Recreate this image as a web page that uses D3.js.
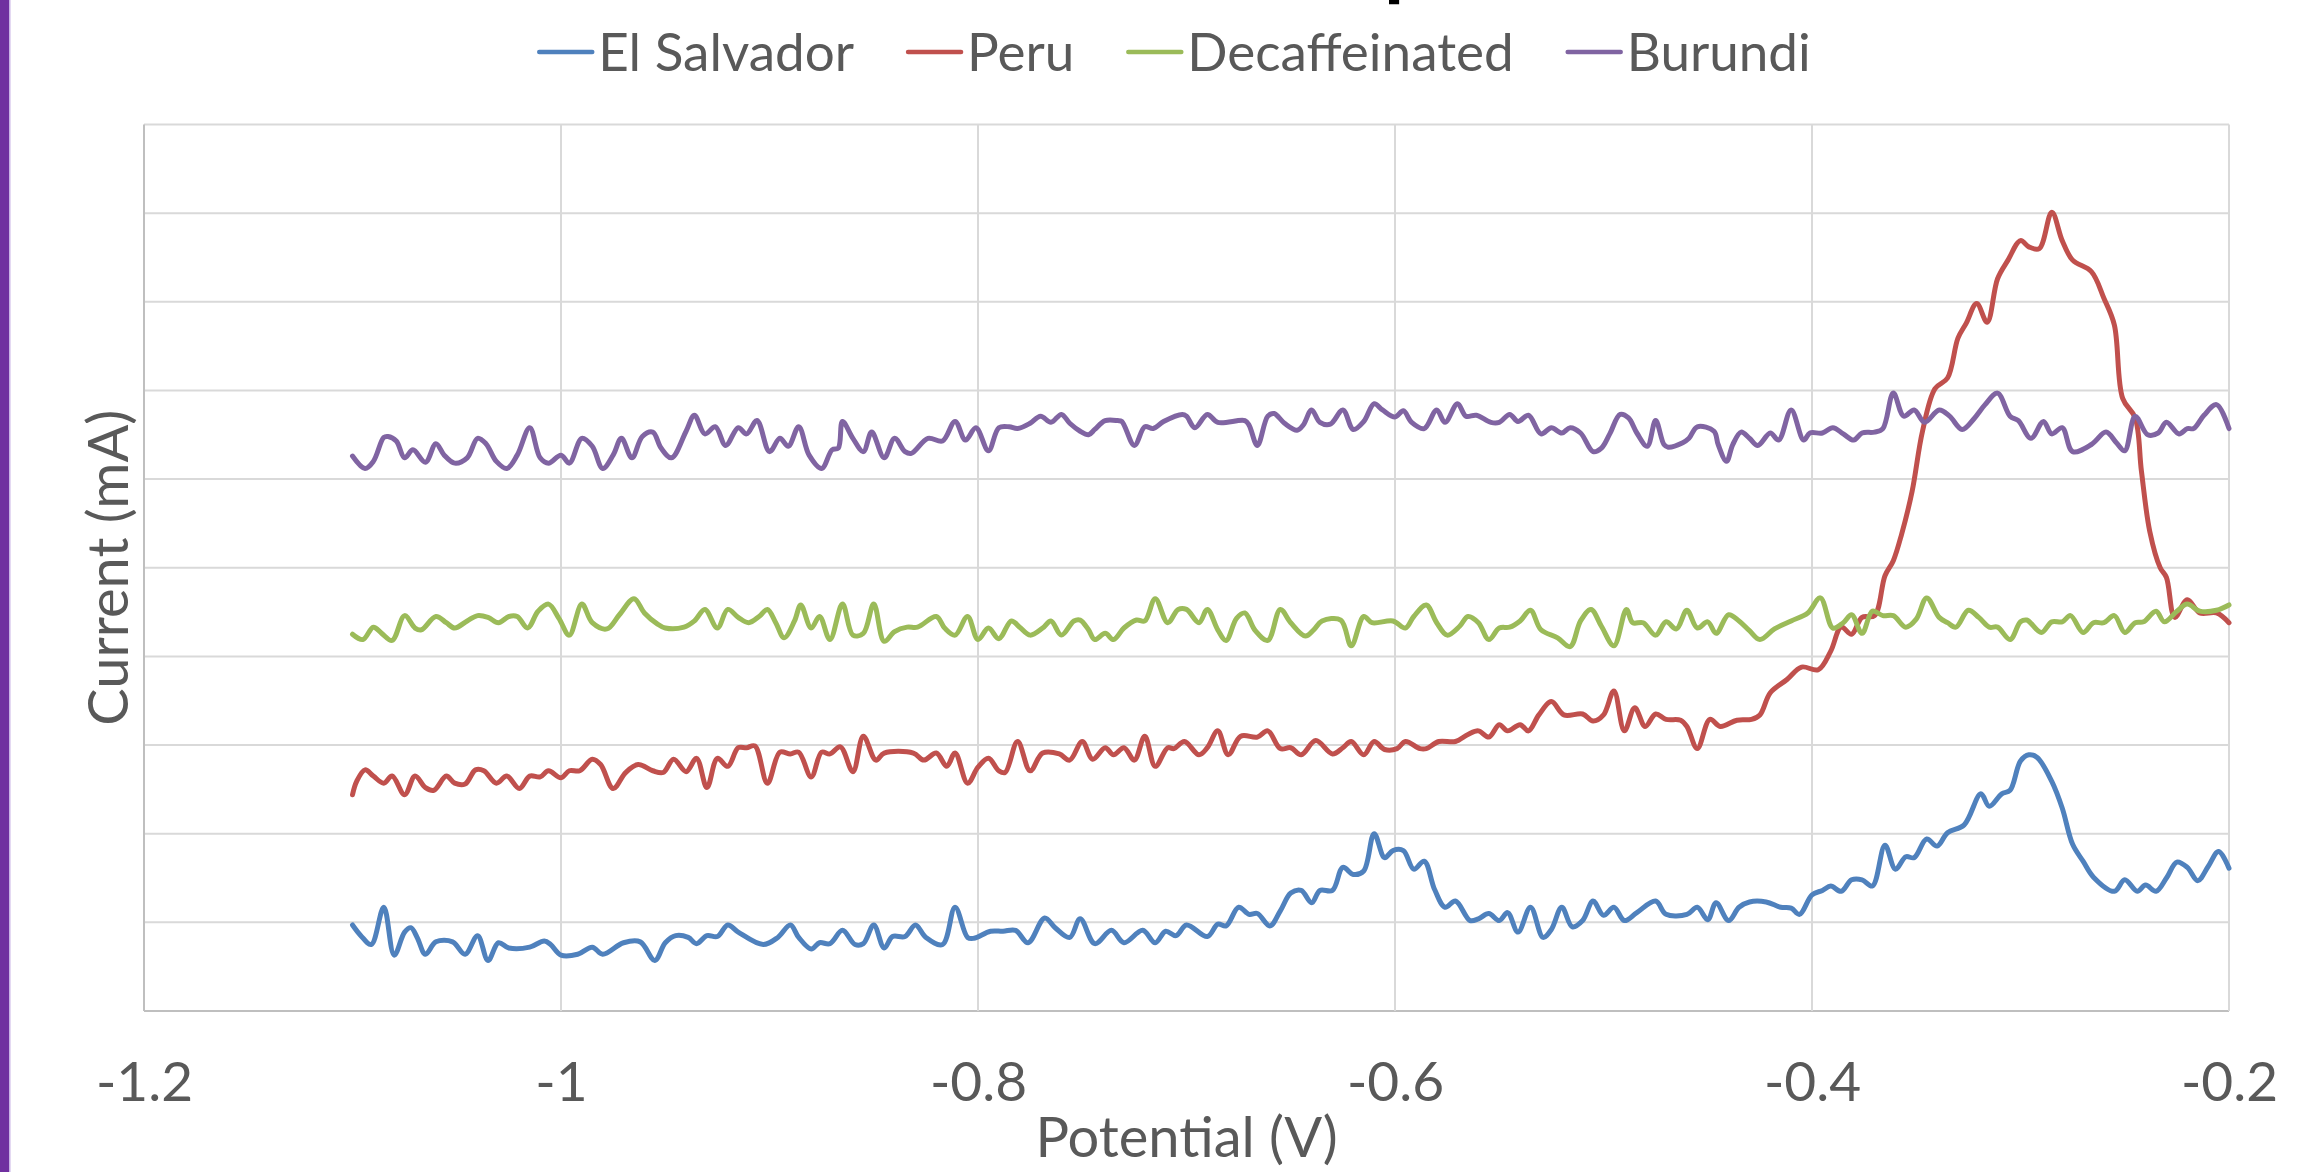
<!DOCTYPE html>
<html>
<head>
<meta charset="utf-8">
<script src="https://cdn.jsdelivr.net/npm/d3@7"></script>
<style>
  body { margin: 0; background: #fff; overflow: hidden; }
  svg { display: block; }
  text { font-family: Lato, "Open Sans", sans-serif; }
</style>
</head>
<body>
<div id="chart"></div>
<script>
// Chart values (current in gridline units, axis has no labels)
const chartTitle = "Caffeine Comparison";
const xTitle = "Potential (V)";
const yTitle = "Current (mA)";
const potentialTicks = [-1.2, -1, -0.8, -0.6, -0.4, -0.2];
const potentialTickLabels = ["-1.2", "-1", "-0.8", "-0.6", "-0.4", "-0.2"];
const currentTicks = [0, 1, 2, 3, 4, 5, 6, 7, 8, 9, 10];
const seriesNames = ["El Salvador", "Peru", "Decaffeinated", "Burundi"];
const seriesColors = ["#4F81BD", "#C0504D", "#9BBB59", "#8064A2"];

const elSalvador = [
  [-1.100,0.97],[-1.096,0.85],[-1.091,0.75],[-1.085,1.17],[-1.080,0.63],[-1.075,0.89],[-1.072,0.94],[-1.069,0.83],
  [-1.065,0.64],[-1.060,0.78],[-1.052,0.78],[-1.046,0.64],[-1.040,0.85],[-1.035,0.57],[-1.030,0.77],[-1.025,0.71],
  [-1.015,0.72],[-1.008,0.79],[-1.005,0.75],[-1.000,0.63],[-0.992,0.64],[-0.985,0.72],[-0.980,0.64],[-0.970,0.77],
  [-0.962,0.78],[-0.955,0.57],[-0.950,0.77],[-0.945,0.85],[-0.939,0.83],[-0.935,0.76],[-0.930,0.85],[-0.925,0.84],
  [-0.920,0.97],[-0.915,0.89],[-0.903,0.75],[-0.896,0.83],[-0.890,0.97],[-0.886,0.83],[-0.880,0.70],[-0.876,0.77],
  [-0.871,0.76],[-0.865,0.91],[-0.859,0.75],[-0.855,0.76],[-0.850,0.97],[-0.845,0.71],[-0.841,0.84],[-0.835,0.84],
  [-0.830,0.97],[-0.825,0.83],[-0.817,0.75],[-0.811,1.17],[-0.805,0.83],[-0.802,0.82],[-0.794,0.90],[-0.788,0.90],
  [-0.782,0.91],[-0.776,0.77],[-0.768,1.05],[-0.763,0.94],[-0.756,0.83],[-0.751,1.04],[-0.744,0.76],[-0.736,0.91],
  [-0.730,0.77],[-0.721,0.91],[-0.715,0.77],[-0.710,0.90],[-0.705,0.85],[-0.700,0.97],[-0.690,0.84],[-0.685,0.98],
  [-0.681,0.96],[-0.675,1.17],[-0.670,1.09],[-0.666,1.10],[-0.660,0.96],[-0.655,1.13],[-0.650,1.33],[-0.645,1.36],
  [-0.640,1.22],[-0.636,1.36],[-0.630,1.36],[-0.625,1.62],[-0.620,1.54],[-0.615,1.58],[-0.610,2.00],[-0.605,1.73],
  [-0.601,1.81],[-0.596,1.81],[-0.591,1.60],[-0.586,1.69],[-0.581,1.37],[-0.576,1.17],[-0.571,1.24],[-0.564,1.02],
  [-0.560,1.04],[-0.555,1.10],[-0.550,1.02],[-0.546,1.11],[-0.541,0.89],[-0.535,1.17],[-0.529,0.83],[-0.525,0.92],
  [-0.520,1.17],[-0.515,0.95],[-0.510,1.02],[-0.505,1.24],[-0.500,1.08],[-0.495,1.17],[-0.490,1.02],[-0.484,1.11],
  [-0.475,1.24],[-0.470,1.09],[-0.460,1.09],[-0.455,1.17],[-0.450,1.03],[-0.446,1.22],[-0.440,1.02],[-0.435,1.17],
  [-0.430,1.23],[-0.422,1.23],[-0.415,1.17],[-0.410,1.16],[-0.406,1.09],[-0.400,1.31],[-0.395,1.36],[-0.391,1.41],
  [-0.386,1.35],[-0.381,1.48],[-0.376,1.48],[-0.371,1.41],[-0.365,1.87],[-0.360,1.60],[-0.355,1.74],[-0.351,1.73],
  [-0.345,1.94],[-0.340,1.86],[-0.335,2.01],[-0.327,2.10],[-0.319,2.45],[-0.315,2.31],[-0.309,2.45],[-0.305,2.49],
  [-0.300,2.82],[-0.296,2.89],[-0.292,2.86],[-0.285,2.59],[-0.280,2.29],[-0.275,1.88],[-0.270,1.69],[-0.265,1.51],
  [-0.255,1.35],[-0.250,1.48],[-0.244,1.35],[-0.240,1.42],[-0.235,1.35],[-0.230,1.50],[-0.225,1.68],[-0.220,1.62],
  [-0.215,1.47],[-0.210,1.63],[-0.205,1.80],[-0.200,1.61]
];

const peru = [
  [-1.100,2.44],[-1.098,2.59],[-1.094,2.72],[-1.090,2.65],[-1.085,2.57],[-1.081,2.65],[-1.075,2.44],[-1.070,2.65],
  [-1.065,2.52],[-1.061,2.49],[-1.055,2.65],[-1.051,2.57],[-1.046,2.56],[-1.041,2.72],[-1.037,2.71],[-1.031,2.57],
  [-1.026,2.65],[-1.020,2.51],[-1.015,2.65],[-1.010,2.64],[-1.006,2.71],[-1.000,2.63],[-0.996,2.71],[-0.991,2.71],
  [-0.985,2.84],[-0.981,2.78],[-0.975,2.51],[-0.969,2.69],[-0.963,2.78],[-0.956,2.71],[-0.951,2.69],[-0.946,2.84],
  [-0.940,2.70],[-0.935,2.85],[-0.930,2.52],[-0.925,2.85],[-0.920,2.76],[-0.915,2.97],[-0.911,2.97],[-0.907,2.99],
  [-0.901,2.57],[-0.895,2.92],[-0.890,2.90],[-0.886,2.92],[-0.880,2.64],[-0.875,2.92],[-0.871,2.90],[-0.866,2.98],
  [-0.860,2.70],[-0.855,3.10],[-0.849,2.83],[-0.845,2.91],[-0.831,2.91],[-0.826,2.83],[-0.820,2.91],[-0.815,2.76],
  [-0.811,2.91],[-0.805,2.57],[-0.800,2.75],[-0.795,2.85],[-0.790,2.71],[-0.787,2.69],[-0.781,3.04],[-0.775,2.71],
  [-0.769,2.91],[-0.761,2.90],[-0.756,2.83],[-0.750,3.04],[-0.745,2.84],[-0.739,2.97],[-0.735,2.89],[-0.730,2.97],
  [-0.725,2.83],[-0.720,3.10],[-0.715,2.76],[-0.709,2.97],[-0.706,2.96],[-0.701,3.04],[-0.694,2.89],[-0.690,2.97],
  [-0.685,3.16],[-0.680,2.89],[-0.674,3.10],[-0.666,3.09],[-0.661,3.16],[-0.655,2.96],[-0.650,2.97],[-0.645,2.89],
  [-0.638,3.05],[-0.630,2.90],[-0.625,2.97],[-0.621,3.04],[-0.615,2.89],[-0.610,3.04],[-0.605,2.95],[-0.599,2.96],
  [-0.595,3.04],[-0.588,2.96],[-0.585,2.96],[-0.579,3.04],[-0.571,3.04],[-0.565,3.12],[-0.560,3.16],[-0.555,3.09],
  [-0.550,3.23],[-0.546,3.16],[-0.540,3.23],[-0.536,3.16],[-0.531,3.34],[-0.525,3.49],[-0.519,3.34],[-0.510,3.35],
  [-0.505,3.27],[-0.500,3.34],[-0.495,3.61],[-0.490,3.16],[-0.485,3.42],[-0.480,3.21],[-0.475,3.35],[-0.470,3.29],
  [-0.463,3.28],[-0.460,3.21],[-0.455,2.96],[-0.449,3.29],[-0.444,3.21],[-0.436,3.28],[-0.429,3.29],[-0.425,3.34],
  [-0.420,3.59],[-0.412,3.74],[-0.405,3.88],[-0.397,3.85],[-0.391,4.06],[-0.386,4.33],[-0.381,4.25],[-0.376,4.44],
  [-0.370,4.46],[-0.365,4.91],[-0.361,5.08],[-0.357,5.38],[-0.352,5.86],[-0.347,6.54],[-0.341,7.02],[-0.335,7.14],
  [-0.330,7.59],[-0.326,7.76],[-0.321,7.98],[-0.316,7.77],[-0.311,8.26],[-0.306,8.47],[-0.300,8.69],[-0.296,8.62],
  [-0.291,8.60],[-0.285,9.01],[-0.280,8.69],[-0.275,8.47],[-0.266,8.34],[-0.260,8.04],[-0.255,7.74],[-0.251,6.91],
  [-0.245,6.69],[-0.242,6.09],[-0.238,5.41],[-0.233,5.00],[-0.230,4.89],[-0.226,4.44],[-0.220,4.64],[-0.214,4.49],
  [-0.206,4.49],[-0.200,4.38]
];

const decaffeinated = [
  [-1.100,4.25],[-1.095,4.19],[-1.090,4.33],[-1.086,4.26],[-1.081,4.18],[-1.075,4.46],[-1.070,4.32],[-1.067,4.30],
  [-1.060,4.45],[-1.055,4.38],[-1.051,4.32],[-1.045,4.40],[-1.040,4.46],[-1.035,4.44],[-1.030,4.38],[-1.025,4.45],
  [-1.021,4.45],[-1.016,4.32],[-1.011,4.51],[-1.006,4.59],[-1.001,4.43],[-0.996,4.24],[-0.990,4.59],[-0.985,4.38],
  [-0.978,4.31],[-0.972,4.47],[-0.965,4.65],[-0.960,4.49],[-0.954,4.37],[-0.950,4.32],[-0.941,4.33],[-0.936,4.40],
  [-0.931,4.53],[-0.925,4.32],[-0.920,4.53],[-0.915,4.44],[-0.910,4.38],[-0.905,4.45],[-0.901,4.53],[-0.897,4.38],
  [-0.893,4.21],[-0.888,4.40],[-0.885,4.58],[-0.880,4.32],[-0.876,4.45],[-0.871,4.19],[-0.865,4.59],[-0.860,4.24],
  [-0.855,4.26],[-0.850,4.59],[-0.845,4.17],[-0.840,4.28],[-0.834,4.33],[-0.829,4.33],[-0.820,4.45],[-0.816,4.32],
  [-0.811,4.24],[-0.805,4.45],[-0.800,4.19],[-0.795,4.32],[-0.790,4.20],[-0.784,4.40],[-0.780,4.33],[-0.775,4.24],
  [-0.769,4.32],[-0.765,4.40],[-0.760,4.24],[-0.754,4.40],[-0.751,4.41],[-0.747,4.30],[-0.744,4.19],[-0.739,4.26],
  [-0.735,4.19],[-0.730,4.32],[-0.724,4.41],[-0.720,4.40],[-0.715,4.65],[-0.709,4.38],[-0.704,4.53],[-0.700,4.53],
  [-0.694,4.38],[-0.690,4.53],[-0.685,4.30],[-0.681,4.18],[-0.676,4.43],[-0.672,4.49],[-0.667,4.29],[-0.661,4.18],
  [-0.655,4.53],[-0.650,4.38],[-0.643,4.23],[-0.639,4.30],[-0.635,4.40],[-0.626,4.41],[-0.621,4.12],[-0.615,4.45],
  [-0.611,4.38],[-0.601,4.40],[-0.595,4.32],[-0.591,4.45],[-0.585,4.58],[-0.580,4.38],[-0.575,4.24],[-0.569,4.34],
  [-0.565,4.45],[-0.560,4.38],[-0.555,4.19],[-0.550,4.32],[-0.545,4.33],[-0.540,4.40],[-0.535,4.52],[-0.530,4.30],
  [-0.522,4.21],[-0.516,4.11],[-0.511,4.40],[-0.506,4.53],[-0.501,4.34],[-0.495,4.12],[-0.489,4.53],[-0.486,4.38],
  [-0.481,4.38],[-0.475,4.24],[-0.470,4.39],[-0.465,4.31],[-0.460,4.52],[-0.455,4.32],[-0.450,4.39],[-0.446,4.26],
  [-0.440,4.47],[-0.435,4.40],[-0.430,4.29],[-0.425,4.19],[-0.418,4.31],[-0.410,4.40],[-0.402,4.49],[-0.396,4.66],
  [-0.390,4.32],[-0.385,4.38],[-0.381,4.47],[-0.376,4.26],[-0.371,4.51],[-0.366,4.46],[-0.361,4.46],[-0.355,4.33],
  [-0.350,4.42],[-0.345,4.66],[-0.339,4.44],[-0.335,4.38],[-0.331,4.33],[-0.325,4.52],[-0.320,4.44],[-0.315,4.33],
  [-0.311,4.33],[-0.305,4.19],[-0.300,4.39],[-0.297,4.41],[-0.290,4.27],[-0.285,4.39],[-0.280,4.39],[-0.276,4.46],
  [-0.270,4.27],[-0.265,4.38],[-0.260,4.38],[-0.255,4.46],[-0.250,4.27],[-0.245,4.38],[-0.241,4.39],[-0.235,4.51],
  [-0.231,4.39],[-0.225,4.51],[-0.220,4.59],[-0.214,4.51],[-0.206,4.52],[-0.200,4.58]
];

const burundi = [
  [-1.100,6.26],[-1.094,6.12],[-1.090,6.20],[-1.085,6.47],[-1.083,6.48],[-1.079,6.43],[-1.075,6.24],[-1.071,6.33],
  [-1.065,6.19],[-1.060,6.40],[-1.056,6.27],[-1.051,6.18],[-1.045,6.24],[-1.040,6.46],[-1.036,6.40],[-1.031,6.20],
  [-1.026,6.12],[-1.021,6.27],[-1.015,6.58],[-1.010,6.24],[-1.006,6.18],[-1.000,6.27],[-0.996,6.18],[-0.990,6.46],
  [-0.985,6.37],[-0.980,6.12],[-0.975,6.27],[-0.971,6.46],[-0.966,6.24],[-0.961,6.48],[-0.956,6.53],[-0.952,6.35],
  [-0.947,6.24],[-0.940,6.54],[-0.936,6.72],[-0.931,6.51],[-0.926,6.59],[-0.921,6.38],[-0.915,6.58],[-0.911,6.51],
  [-0.906,6.66],[-0.900,6.31],[-0.895,6.46],[-0.891,6.37],[-0.886,6.59],[-0.881,6.27],[-0.875,6.12],[-0.870,6.33],
  [-0.867,6.35],[-0.865,6.65],[-0.860,6.46],[-0.855,6.31],[-0.851,6.53],[-0.845,6.24],[-0.840,6.46],[-0.835,6.31],
  [-0.832,6.29],[-0.824,6.46],[-0.817,6.43],[-0.811,6.65],[-0.806,6.44],[-0.801,6.58],[-0.795,6.32],[-0.790,6.58],
  [-0.785,6.59],[-0.781,6.57],[-0.775,6.63],[-0.770,6.71],[-0.765,6.64],[-0.760,6.73],[-0.756,6.63],[-0.751,6.54],
  [-0.747,6.50],[-0.744,6.56],[-0.739,6.66],[-0.733,6.66],[-0.731,6.65],[-0.725,6.38],[-0.720,6.59],[-0.716,6.57],
  [-0.711,6.65],[-0.702,6.73],[-0.700,6.71],[-0.696,6.58],[-0.690,6.73],[-0.685,6.64],[-0.672,6.66],[-0.670,6.61],
  [-0.666,6.38],[-0.661,6.71],[-0.658,6.74],[-0.653,6.63],[-0.647,6.55],[-0.644,6.61],[-0.640,6.78],[-0.636,6.64],
  [-0.631,6.62],[-0.625,6.78],[-0.620,6.56],[-0.615,6.65],[-0.610,6.85],[-0.606,6.78],[-0.600,6.70],[-0.596,6.77],
  [-0.592,6.64],[-0.586,6.57],[-0.580,6.78],[-0.576,6.64],[-0.570,6.85],[-0.566,6.71],[-0.561,6.72],[-0.554,6.64],
  [-0.550,6.64],[-0.545,6.73],[-0.541,6.65],[-0.536,6.72],[-0.530,6.51],[-0.525,6.58],[-0.520,6.52],[-0.516,6.58],
  [-0.511,6.52],[-0.505,6.31],[-0.501,6.35],[-0.497,6.51],[-0.492,6.73],[-0.488,6.69],[-0.484,6.52],[-0.479,6.37],
  [-0.475,6.66],[-0.471,6.39],[-0.469,6.36],[-0.462,6.41],[-0.459,6.46],[-0.455,6.59],[-0.447,6.54],[-0.445,6.39],
  [-0.441,6.20],[-0.438,6.39],[-0.434,6.53],[-0.430,6.46],[-0.426,6.38],[-0.420,6.52],[-0.416,6.44],[-0.410,6.78],
  [-0.404,6.44],[-0.401,6.52],[-0.395,6.52],[-0.390,6.58],[-0.385,6.51],[-0.380,6.44],[-0.376,6.52],[-0.370,6.53],
  [-0.366,6.57],[-0.361,6.97],[-0.356,6.71],[-0.351,6.78],[-0.346,6.64],[-0.339,6.78],[-0.334,6.71],[-0.328,6.56],
  [-0.322,6.69],[-0.317,6.84],[-0.311,6.97],[-0.305,6.71],[-0.301,6.66],[-0.295,6.46],[-0.289,6.65],[-0.285,6.51],
  [-0.280,6.58],[-0.275,6.31],[-0.266,6.39],[-0.259,6.53],[-0.254,6.41],[-0.250,6.32],[-0.245,6.71],[-0.239,6.50],
  [-0.234,6.52],[-0.230,6.64],[-0.224,6.51],[-0.220,6.57],[-0.217,6.57],[-0.212,6.72],[-0.206,6.84],[-0.200,6.57]
];

const seriesValues = [elSalvador, peru, decaffeinated, burundi];

// Layout
const width = 2324, height = 1172;
const plot = { left: 144, right: 2229, top: 124.5, bottom: 1011 };
const textColor = "#595959";
const gridColor = "#D9D9D9";

const svg = d3.select("#chart")
  .append("svg")
  .attr("width", width)
  .attr("height", height);

svg.append("rect")
  .attr("width", width)
  .attr("height", height)
  .attr("fill", "#fff");

// Purple edge strip on the left of the picture
svg.append("rect").attr("x", 0).attr("y", 0).attr("width", 9).attr("height", height).attr("fill", "#7030A0");
svg.append("rect").attr("x", 9).attr("y", 0).attr("width", 1.5).attr("height", height).attr("fill", "#C9B3E6");

const x = d3.scaleLinear()
  .domain([-1.2, -0.2])
  .range([plot.left, plot.right]);

const y = d3.scaleLinear()
  .domain([0, 10])
  .range([plot.bottom, plot.top]);

// Horizontal gridlines
svg.append("g")
  .selectAll("line")
  .data(currentTicks)
  .join("line")
  .attr("x1", plot.left)
  .attr("x2", plot.right)
  .attr("y1", d => y(d))
  .attr("y2", d => y(d))
  .attr("stroke", d => d === 0 ? "#BFBFBF" : gridColor)
  .attr("stroke-width", 2);

// Vertical gridlines
svg.append("g")
  .selectAll("line")
  .data(potentialTicks)
  .join("line")
  .attr("x1", d => x(d))
  .attr("x2", d => x(d))
  .attr("y1", plot.top)
  .attr("y2", plot.bottom)
  .attr("stroke", (d, i) => i === 0 ? "#BFBFBF" : gridColor)
  .attr("stroke-width", 2);

// X axis tick labels
const xAxis = d3.axisBottom(x)
  .tickValues(potentialTicks)
  .tickFormat((d, i) => potentialTickLabels[i])
  .tickSize(0)
  .tickPadding(0);

const xAxisG = svg.append("g")
  .attr("transform", `translate(0, ${plot.bottom})`)
  .call(xAxis);
xAxisG.select(".domain").remove();
xAxisG.selectAll("text")
  .attr("y", 90)
  .attr("dy", null)
  .attr("fill", textColor)
  .style("font-size", "55px")
  .style("font-family", "Lato, sans-serif");

// Series lines
const line = d3.line()
  .x(d => x(d[0]))
  .y(d => y(d[1]))
  .curve(d3.curveCatmullRom.alpha(0.5));

svg.append("g")
  .selectAll("path")
  .data(seriesValues)
  .join("path")
  .attr("d", line)
  .attr("fill", "none")
  .attr("stroke", (d, i) => seriesColors[i])
  .attr("stroke-width", 5)
  .attr("stroke-linejoin", "round")
  .attr("stroke-linecap", "round");

// Axis titles
svg.append("text")
  .attr("x", (plot.left + plot.right) / 2)
  .attr("y", 1157)
  .attr("text-anchor", "middle")
  .attr("fill", textColor)
  .style("font-size", "56px")
  .text(xTitle);

svg.append("text")
  .attr("transform", `translate(128, ${(plot.top + plot.bottom) / 2}) rotate(-90)`)
  .attr("text-anchor", "middle")
  .attr("fill", textColor)
  .style("font-size", "56px")
  .text(yTitle);

// Legend, laid out in a row and centred
const legendG = svg.append("g");
const symbolLen = 55, symbolGap = 6, itemGap = 52, legendCenter = 1174;
let cursor = 0;
seriesNames.forEach((name, i) => {
  const item = legendG.append("g").attr("transform", `translate(${cursor}, 0)`);
  item.append("line")
    .attr("x1", 2).attr("x2", symbolLen)
    .attr("y1", 52).attr("y2", 52)
    .attr("stroke", seriesColors[i])
    .attr("stroke-width", 4.5)
    .attr("stroke-linecap", "round");
  const t = item.append("text")
    .attr("x", symbolLen + symbolGap)
    .attr("y", 70.5)
    .attr("fill", textColor)
    .style("font-size", "53px")
    .text(name);
  cursor += symbolLen + symbolGap + t.node().getComputedTextLength() + itemGap;
});
const legendWidth = cursor - itemGap;
legendG.attr("transform", `translate(${legendCenter - legendWidth / 2}, 0)`);

// Title sits above the picture; only the descender of its "p" shows
const title = svg.append("text")
  .attr("x", 0)
  .attr("y", -10)
  .attr("fill", "#000")
  .style("font-size", "82px")
  .style("font-weight", "bold")
  .text(chartTitle);
const pIndex = chartTitle.indexOf("p");
const pStart = title.node().getStartPositionOfChar(pIndex).x;
title.attr("x", 1384 - pStart);
</script>
</body>
</html>
